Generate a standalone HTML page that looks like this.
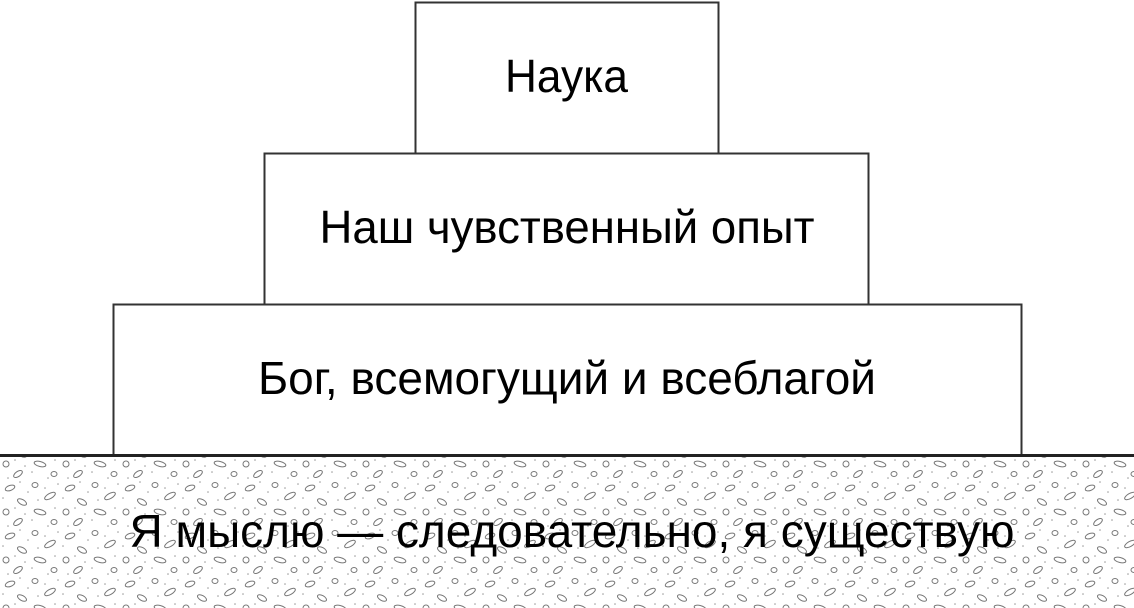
<!DOCTYPE html>
<html><head><meta charset="utf-8"><style>
html,body{margin:0;padding:0;background:#fff;width:1134px;height:608px;overflow:hidden}
svg{display:block}
text{font-family:"Liberation Sans",Arial,sans-serif;font-size:46px;fill:#000}
</style></head><body>
<svg width="1134" height="608" viewBox="0 0 1134 608" xmlns="http://www.w3.org/2000/svg">
<defs>
<pattern id="g" width="60" height="48" patternUnits="userSpaceOnUse">
<g fill="none" stroke="#777" stroke-width="1">
<ellipse cx="10" cy="8" rx="5" ry="2.5" transform="rotate(-20 10 8)"/>
<ellipse cx="35" cy="5" rx="3" ry="2.5"/>
<ellipse cx="50" cy="16" rx="6" ry="2.5" transform="rotate(-30 50 16)"/>
<ellipse cx="22" cy="22" rx="5" ry="2.5" transform="rotate(30 22 22)"/>
<ellipse cx="6" cy="32" rx="3" ry="3"/>
<ellipse cx="40" cy="32" rx="6" ry="2.5" transform="rotate(15 40 32)"/>
<ellipse cx="18" cy="42" rx="5" ry="2.5" transform="rotate(-35 18 42)"/>
<ellipse cx="54" cy="42" rx="3" ry="2.5"/>
</g>
<g fill="#999">
<circle cx="3" cy="18" r="0.8"/><circle cx="28" cy="12" r="0.8"/><circle cx="45" cy="8" r="0.8"/>
<circle cx="15" cy="28" r="0.8"/><circle cx="32" cy="40" r="0.8"/><circle cx="55" cy="28" r="0.8"/>
<circle cx="8" cy="46" r="0.8"/><circle cx="48" cy="46" r="0.8"/><circle cx="25" cy="34" r="0.8"/>
<circle cx="38" cy="20" r="0.8"/><circle cx="20" cy="2" r="0.8"/><circle cx="58" cy="4" r="0.8"/>
</g>
</pattern>
</defs>
<rect x="0" y="456" width="1134" height="152" fill="url(#g)"/>
<rect x="415.5" y="2.5" width="303" height="151" fill="#fff" stroke="#333" stroke-width="2"/>
<rect x="264.5" y="153.5" width="604" height="151" fill="#fff" stroke="#333" stroke-width="2"/>
<rect x="113.5" y="304.5" width="908" height="151" fill="#fff" stroke="#333" stroke-width="2"/>
<line x1="0" y1="455.5" x2="1134" y2="455.5" stroke="#222" stroke-width="3"/>
<text x="566.5" y="92" text-anchor="middle" textLength="123" lengthAdjust="spacingAndGlyphs">Наука</text>
<text x="567" y="243" text-anchor="middle" textLength="495" lengthAdjust="spacingAndGlyphs">Наш чувственный опыт</text>
<text x="567" y="394" text-anchor="middle" textLength="618" lengthAdjust="spacingAndGlyphs">Бог, всемогущий и всеблагой</text>
<text x="572" y="547" text-anchor="middle" textLength="885" lengthAdjust="spacingAndGlyphs">Я мыслю — следовательно, я существую</text>
</svg>
</body></html>
